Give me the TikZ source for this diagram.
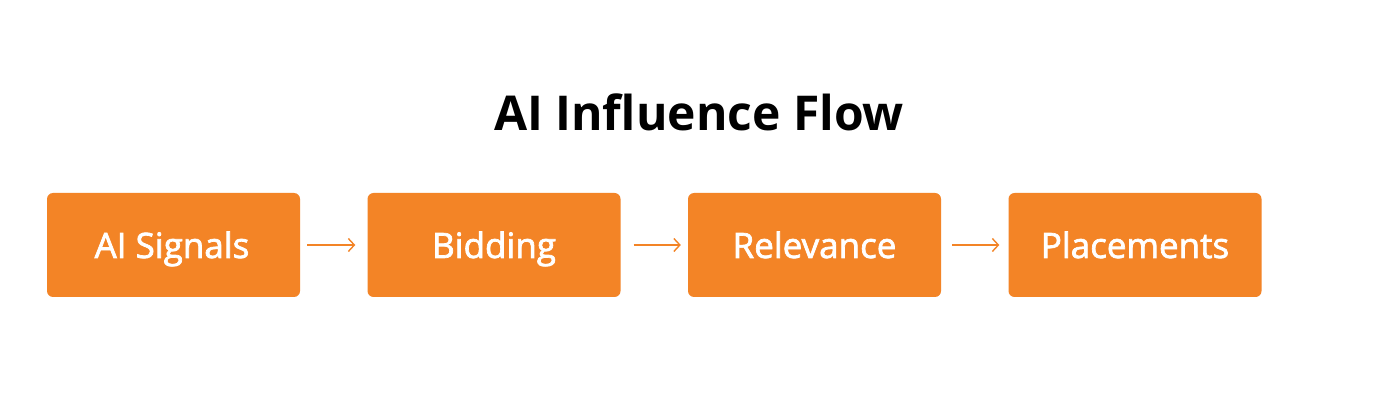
\documentclass[tikz,border=0pt]{standalone}
\usepackage{fontspec}
\setmainfont{Open Sans}
\newfontfamily\boxfont{Open Sans}[FakeBold=2]
\usetikzlibrary{arrows.meta}
\definecolor{boxorange}{HTML}{F38426}
\begin{document}
\begin{tikzpicture}[x=1pt,y=-1pt,
  stepbox/.style={fill=boxorange, rounded corners=6pt, minimum width=253pt, minimum height=104pt, inner sep=0pt},
  steplabel/.style={anchor=base, text=white, inner sep=0pt, font=\boxfont\fontsize{35}{40}\selectfont},
  flow/.style={draw=boxorange, line width=1.4pt, -{Straight Barb[length=6pt,width=13pt,line width=1.4pt]}}]
\useasboundingbox[fill=white] (0,0) rectangle (1400,403);
\node[font=\bfseries\fontsize{48}{56}\selectfont, anchor=base] (title) at (699,131) {AI Influence Flow};
\node[stepbox] (b1) at (173.5,245) {};
\node[stepbox] (b2) at (494,245) {};
\node[stepbox] (b3) at (814.5,245) {};
\node[stepbox] (b4) at (1135,245) {};
\node[steplabel] (t1) at (172,258) {AI Signals};
\node[steplabel] (t2) at (494,258) {Bidding};
\node[steplabel] (t3) at (814.5,258) {Relevance};
\node[steplabel] (t4) at (1135,258) {Placements};
\draw[flow, shorten <=7pt, shorten >=12pt] (b1.east) -- (b2.west);
\draw[flow, shorten <=13pt, shorten >=7pt] (b2.east) -- (b3.west);
\draw[flow, shorten <=11pt, shorten >=9pt] (b3.east) -- (b4.west);
\end{tikzpicture}
\end{document}
